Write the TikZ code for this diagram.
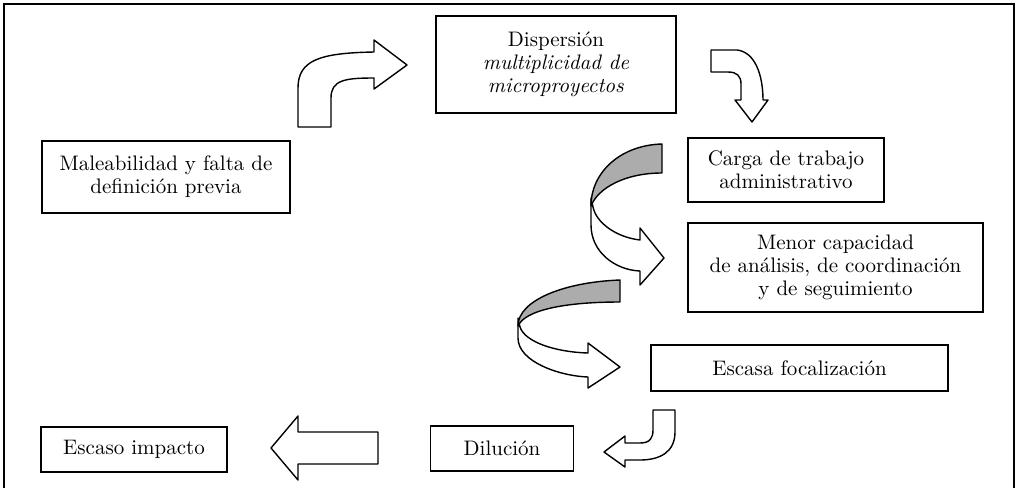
\documentclass[tikz,border=0pt]{standalone}
\usepackage{tikz}
\begin{document}
\begin{tikzpicture}[x=0.5pt,y=-0.5pt,
  caja/.style n args={2}{draw,line width=0.7pt,align=center,minimum width=#1,minimum height=#2,inner sep=0pt,font=\fontsize{10.5}{11.5}\selectfont},
  flecha/.style={draw,line width=0.7pt,fill=white,line join=round},
  dorso/.style={draw,line width=0.7pt,fill=gray!65,line join=round}]
\useasboundingbox (0,0) rectangle (1017,488);
\draw[line width=1pt] (4,488) -- (4,3.5) -- (1014,3.5) -- (1014,488);
% cajas
\node[caja={120pt}{48.5pt}] (dispersion) at (556,64.5) {Dispersión\\\textit{multiplicidad de}\\\textit{microproyectos}};
\node[caja={124pt}{36pt}] (maleab) at (166,177) {Maleabilidad y falta de\\definición previa};
\node[caja={98pt}{32pt}] (carga) at (786,170) {Carga de trabajo\\administrativo};
\node[caja={147.5pt}{44.5pt}] (menor) at (835.5,267.5) {Menor capacidad\\de análisis, de coordinación\\y de seguimiento};
\node[caja={148.5pt}{23pt}] (focal) at (799.5,368) {Escasa focalización};
\node[caja={71.5pt}{22.5pt}] (dilucion) at (502,448.5) {Dilución};
\node[caja={93pt}{22.5pt}] (impacto) at (134,449.5) {Escaso impacto};
% flechas de bloque
\draw[flecha] (298,127) -- (298,88) .. controls (298,60) and (320,53) .. (374,52)
   -- (374,40) -- (407,65) -- (374,89) -- (374,78)
   .. controls (345,78) and (331,80) .. (331,98) -- (331,127) -- cycle;
\draw[flecha] (711,50) -- (737,50) .. controls (755,52) and (763,75) .. (763,100)
   -- (768,100) -- (752,122) -- (735,100) -- (741,100) -- (741,84)
   .. controls (741,76) and (737,72) .. (728,72) -- (711,72) -- cycle;
\draw[flecha] (591,198) -- (591,225) .. controls (591,252) and (615,270) .. (640,271)
   -- (640,285) -- (664,258) -- (640,228) -- (640,240)
   .. controls (615,237) and (596,222) .. (593,207) -- cycle;
\draw[dorso] (662,144) .. controls (621,145) and (591,172) .. (591,206)
   .. controls (598,188) and (625,173) .. (662,173) -- cycle;
\draw[flecha] (518,318) -- (518,338) .. controls (518,362) and (560,376) .. (588,377)
   -- (588,388) -- (620,367) -- (588,343) -- (588,353)
   .. controls (555,352) and (525,342) .. (520,327) -- cycle;
\draw[dorso] (620,280) .. controls (565,282) and (518,300) .. (518,326)
   .. controls (525,310) and (565,302) .. (620,302) -- cycle;
\draw[flecha] (653,410) -- (675,410) -- (675,432) .. controls (675,452) and (660,460) .. (640,460)
   -- (625,460) -- (625,467) -- (604,452) -- (625,436) -- (625,443) -- (640,443)
   .. controls (650,443) and (653,438) .. (653,430) -- cycle;
\draw[flecha] (378,432) -- (298,432) -- (298,416) -- (271,448) -- (298,480)
   -- (298,464) -- (378,464) -- cycle;
\end{tikzpicture}
\end{document}
